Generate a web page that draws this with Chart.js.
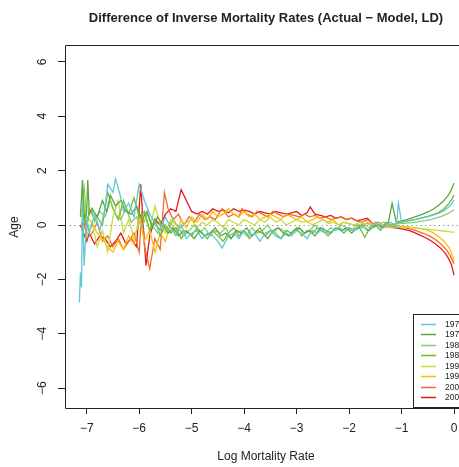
<!DOCTYPE html>
<html>
<head>
<meta charset="utf-8">
<script src="https://cdn.jsdelivr.net/npm/chart.js@4.4.0/dist/chart.umd.min.js"></script>
<style>
html,body{margin:0;padding:0;background:#fff}
canvas{display:block}
</style>
</head>
<body>
<canvas id="chart" width="459" height="467"></canvas>
<script>

const years=["1970","1975","1980","1985","1990","1995","2000","2005"];

const xTicks=[-7,-6,-5,-4,-3,-2,-1,0];
const yTicks=[-6,-4,-2,0,2,4,6];

const rate1970=[
-7.14,-7.12,-7.10,-7.08,-7.05,-7.00,-6.95,-6.85,-6.75,-6.65,
-6.60,-6.50,-6.45,-6.35,-6.30,-6.20,-6.10,-6.00,-5.90,-5.80,
-5.70,-5.60,-5.50,-5.40,-5.30,-5.20,-5.10,-5.00,-4.90,-4.80,
-4.70,-4.60,-4.50,-4.42,-4.30,-4.20,-4.10,-4.00,-3.90,-3.80,
-3.70,-3.60,-3.50,-3.40,-3.30,-3.20,-3.10,-3.00,-2.90,-2.80,
-2.70,-2.60,-2.50,-2.40,-2.30,-2.20,-2.10,-2.00,-1.90,-1.80,
-1.70,-1.60,-1.50,-1.40,-1.30,-1.20,-1.10,-1.06,-1.00,-0.90,
-0.80,-0.70,-0.60,-0.50,-0.40,-0.30,-0.20,-0.10,-0.05,0.00];
const diff1970=[
-2.85,-1.75,-2.30,0.90,-1.50,0.20,-0.30,0.40,-0.20,0.60,
1.50,1.20,1.70,1.00,0.50,0.80,0.30,1.50,0.90,0.40,
0.10,-0.20,0.30,-0.10,-0.40,0.00,-0.50,-0.30,-0.20,-0.50,
-0.30,-0.40,-0.60,-0.85,-0.40,-0.30,-0.50,-0.20,-0.40,-0.30,
-0.60,-0.30,-0.20,-0.40,-0.50,-0.30,-0.40,-0.20,-0.30,-0.50,
-0.20,-0.30,-0.10,-0.30,-0.20,-0.10,-0.20,-0.10,-0.20,0.00,
-0.10,-0.20,0.10,-0.10,0.00,0.10,-0.10,0.80,0.10,0.14,
0.18,0.22,0.26,0.31,0.36,0.43,0.52,0.66,0.76,0.92];

const rate1975=[
-7.12,-7.08,-7.05,-7.00,-6.98,-6.95,-6.90,-6.80,-6.70,-6.62,
-6.55,-6.45,-6.35,-6.25,-6.15,-6.05,-5.95,-5.85,-5.75,-5.65,
-5.55,-5.45,-5.35,-5.25,-5.15,-5.05,-4.95,-4.85,-4.75,-4.65,
-4.55,-4.45,-4.35,-4.25,-4.15,-4.05,-3.95,-3.85,-3.75,-3.65,
-3.55,-3.45,-3.35,-3.25,-3.15,-3.05,-2.95,-2.85,-2.75,-2.65,
-2.55,-2.45,-2.35,-2.25,-2.15,-2.05,-1.95,-1.85,-1.75,-1.65,
-1.55,-1.45,-1.35,-1.25,-1.18,-1.10,-1.00,-0.90,-0.80,-0.70,
-0.60,-0.50,-0.40,-0.30,-0.20,-0.10,-0.05,0.00];
const diff1975=[
0.30,1.65,0.20,0.50,1.65,0.40,0.60,0.30,0.90,0.50,
1.10,0.70,0.90,0.50,0.40,0.70,0.20,0.50,-0.10,0.30,
0.00,-0.30,-0.10,-0.40,-0.20,-0.30,-0.50,-0.20,-0.40,-0.30,
-0.10,-0.40,-0.30,-0.50,-0.20,-0.30,-0.10,-0.40,-0.20,-0.30,
-0.50,-0.20,-0.10,-0.30,-0.40,-0.20,-0.10,-0.30,-0.20,-0.40,
-0.10,-0.20,-0.30,-0.10,-0.20,-0.10,-0.30,-0.10,0.00,-0.20,
-0.10,0.00,-0.10,0.10,0.80,0.10,0.15,0.20,0.26,0.33,
0.40,0.48,0.58,0.72,0.88,1.12,1.30,1.54];

const rate1980=[
-7.10,-7.05,-7.00,-6.90,-6.85,-6.75,-6.65,-6.55,-6.45,-6.35,
-6.25,-6.15,-6.05,-5.95,-5.85,-5.75,-5.65,-5.55,-5.45,-5.35,
-5.25,-5.15,-5.05,-4.95,-4.85,-4.75,-4.65,-4.55,-4.45,-4.35,
-4.25,-4.15,-4.05,-3.95,-3.85,-3.75,-3.65,-3.55,-3.45,-3.35,
-3.25,-3.15,-3.05,-2.95,-2.85,-2.75,-2.65,-2.55,-2.45,-2.35,
-2.25,-2.15,-2.05,-1.95,-1.85,-1.75,-1.65,-1.55,-1.45,-1.35,
-1.25,-1.15,-1.05,-0.95,-0.85,-0.75,-0.65,-0.55,-0.45,-0.35,
-0.25,-0.15,-0.08,0.00];
const diff1980=[
0.80,1.40,0.20,0.60,0.10,0.50,0.30,0.90,0.40,0.20,
0.60,0.10,0.30,-0.10,0.40,0.00,-0.30,0.10,-0.20,0.20,
-0.10,-0.40,-0.20,0.00,-0.30,-0.10,-0.40,-0.20,-0.30,-0.10,
-0.50,-0.30,-0.20,-0.40,-0.10,-0.30,-0.20,0.00,-0.30,-0.10,
-0.20,-0.40,-0.20,-0.10,-0.30,-0.20,0.00,-0.20,-0.30,-0.10,
-0.20,0.00,-0.10,-0.20,0.00,-0.10,0.10,-0.10,0.00,0.10,
0.00,0.03,0.05,0.06,0.08,0.10,0.13,0.16,0.20,0.25,
0.31,0.39,0.46,0.56];

const rate1985=[
-7.10,-7.05,-7.00,-6.95,-6.85,-6.80,-6.70,-6.60,-6.50,-6.40,
-6.30,-6.20,-6.10,-6.00,-5.90,-5.80,-5.70,-5.60,-5.50,-5.40,
-5.30,-5.20,-5.10,-5.00,-4.90,-4.80,-4.70,-4.60,-4.50,-4.40,
-4.30,-4.20,-4.10,-4.00,-3.90,-3.80,-3.70,-3.60,-3.50,-3.40,
-3.30,-3.20,-3.10,-3.00,-2.90,-2.80,-2.70,-2.60,-2.50,-2.40,
-2.30,-2.20,-2.10,-2.00,-1.90,-1.80,-1.70,-1.60,-1.50,-1.40,
-1.30,-1.20,-1.10,-1.00,-0.90,-0.80,-0.70,-0.60,-0.50,-0.40,
-0.30,-0.20,-0.10,-0.05,0.00];
const diff1985=[
0.00,0.40,-0.20,0.60,0.20,0.30,0.00,1.20,0.60,0.20,
0.90,0.40,1.00,0.30,0.50,-0.20,0.20,-0.40,0.00,-0.30,
-0.10,-0.50,-0.20,-0.40,-0.10,-0.30,-0.50,-0.20,-0.40,-0.60,
-0.30,-0.10,-0.40,-0.20,-0.50,-0.30,-0.10,-0.40,-0.20,-0.30,
-0.50,-0.20,-0.30,-0.10,-0.40,-0.20,-0.30,-0.10,-0.20,-0.40,
-0.20,-0.10,-0.30,-0.10,-0.20,-0.10,-0.45,-0.10,0.00,-0.20,
0.10,0.00,0.05,0.10,0.14,0.18,0.22,0.27,0.32,0.38,
0.46,0.58,0.78,0.92,1.10];

const rate1990=[
-7.10,-7.05,-7.00,-6.90,-6.80,-6.70,-6.60,-6.50,-6.40,-6.30,
-6.20,-6.10,-6.00,-5.90,-5.80,-5.70,-5.60,-5.50,-5.40,-5.30,
-5.20,-5.10,-5.00,-4.90,-4.80,-4.70,-4.60,-4.50,-4.40,-4.30,
-4.20,-4.10,-4.00,-3.90,-3.80,-3.70,-3.60,-3.50,-3.40,-3.30,
-3.20,-3.10,-3.00,-2.90,-2.80,-2.70,-2.60,-2.50,-2.40,-2.30,
-2.20,-2.10,-2.00,-1.90,-1.80,-1.70,-1.60,-1.50,-1.40,-1.30,
-1.20,-1.10,-1.00,-0.90,-0.80,-0.70,-0.60,-0.50,-0.40,-0.30,
-0.20,-0.10,0.00];
const diff1990=[
0.30,0.80,-0.40,0.10,-0.80,-0.20,-1.00,0.30,0.90,-0.30,
0.20,-0.50,0.10,0.40,-0.20,0.70,0.00,-0.30,0.20,0.00,
-0.10,0.10,0.20,-0.10,0.10,0.00,0.20,0.10,-0.10,0.20,
0.10,0.00,0.20,0.10,0.00,0.20,0.10,0.30,0.10,0.20,
0.00,0.10,0.20,0.10,0.15,0.00,0.10,0.20,0.05,0.10,
0.00,0.10,0.05,0.00,0.10,0.00,-0.10,0.00,0.05,-0.05,
-0.10,-0.05,-0.10,-0.08,-0.10,-0.12,-0.14,-0.16,-0.18,-0.20,
-0.22,-0.24,-0.27];

const rate1995=[
-7.12,-7.05,-7.00,-6.90,-6.80,-6.70,-6.60,-6.50,-6.40,-6.30,
-6.20,-6.10,-6.00,-5.90,-5.80,-5.70,-5.60,-5.50,-5.40,-5.30,
-5.20,-5.10,-5.00,-4.90,-4.80,-4.70,-4.60,-4.50,-4.40,-4.30,
-4.20,-4.10,-4.00,-3.90,-3.80,-3.70,-3.60,-3.50,-3.40,-3.30,
-3.20,-3.10,-3.00,-2.90,-2.80,-2.70,-2.60,-2.50,-2.40,-2.30,
-2.20,-2.10,-2.00,-1.90,-1.80,-1.70,-1.60,-1.50,-1.40,-1.30,
-1.20,-1.10,-1.00,-0.90,-0.80,-0.70,-0.60,-0.50,-0.40,-0.30,
-0.20,-0.10,-0.05,0.00];
const diff1995=[
0.50,0.70,0.30,0.10,-0.30,-0.50,-0.80,-1.00,-0.60,-0.90,
-0.40,-0.70,0.30,-0.60,-0.20,-1.00,-0.30,-0.60,0.10,-0.30,
0.20,-0.10,0.30,0.10,0.40,0.20,0.50,0.30,0.40,0.60,
0.40,0.30,0.50,0.30,0.40,0.20,0.30,0.40,0.30,0.20,
0.40,0.30,0.20,0.30,0.10,0.20,0.30,0.20,0.10,0.20,
0.00,0.10,0.05,0.00,0.00,0.05,0.05,0.00,0.02,-0.02,
0.00,-0.03,-0.05,-0.07,-0.09,-0.11,-0.14,-0.20,-0.28,-0.42,
-0.58,-0.82,-1.00,-1.30];

const rate2000=[
-7.10,-7.05,-7.00,-6.90,-6.80,-6.70,-6.60,-6.50,-6.40,-6.30,
-6.20,-6.10,-6.00,-5.95,-5.90,-5.80,-5.70,-5.60,-5.52,-5.45,
-5.35,-5.25,-5.15,-5.05,-4.95,-4.85,-4.75,-4.65,-4.55,-4.42,
-4.30,-4.20,-4.10,-4.04,-3.95,-3.85,-3.75,-3.65,-3.55,-3.45,
-3.35,-3.25,-3.15,-3.05,-2.95,-2.85,-2.75,-2.65,-2.55,-2.45,
-2.35,-2.25,-2.15,-2.05,-1.95,-1.85,-1.75,-1.65,-1.55,-1.45,
-1.35,-1.25,-1.15,-1.05,-0.95,-0.85,-0.75,-0.65,-0.55,-0.45,
-0.35,-0.25,-0.15,-0.08,0.00];
const diff2000=[
-0.20,0.10,-0.50,-0.30,0.10,-0.60,-0.40,-0.80,-0.50,-0.90,
-0.60,-0.30,-1.00,0.50,-0.80,-1.60,-0.50,-0.90,1.20,0.60,
0.20,0.40,0.00,0.30,0.10,0.40,0.20,0.30,0.20,0.60,
0.30,0.40,0.30,0.60,0.40,0.30,0.50,0.40,0.30,0.50,
0.40,0.30,0.40,0.35,0.30,0.40,0.30,0.35,0.25,0.30,
0.20,0.25,0.30,0.20,0.25,0.15,0.10,0.20,0.05,0.10,
0.00,-0.03,-0.05,-0.08,-0.10,-0.14,-0.19,-0.26,-0.33,-0.42,
-0.54,-0.70,-0.90,-1.10,-1.42];

const rate2005=[
-7.12,-7.08,-7.00,-6.95,-6.85,-6.75,-6.65,-6.55,-6.45,-6.35,
-6.25,-6.15,-6.05,-5.97,-5.93,-5.87,-5.80,-5.70,-5.60,-5.50,
-5.40,-5.30,-5.20,-5.10,-5.00,-4.90,-4.80,-4.70,-4.60,-4.50,
-4.40,-4.30,-4.20,-4.10,-4.00,-3.90,-3.80,-3.70,-3.60,-3.50,
-3.40,-3.30,-3.20,-3.10,-3.00,-2.90,-2.80,-2.74,-2.65,-2.55,
-2.45,-2.35,-2.25,-2.15,-2.05,-1.95,-1.85,-1.75,-1.65,-1.55,
-1.45,-1.35,-1.25,-1.15,-1.05,-0.95,-0.85,-0.75,-0.65,-0.55,
-0.45,-0.35,-0.25,-0.15,-0.10,-0.05,0.00];
const diff2005=[
0.00,-0.20,-0.60,-0.30,-0.70,-0.40,-0.50,-0.80,-0.60,-0.30,
-0.70,-0.50,-0.80,1.50,0.20,-1.50,-0.40,0.20,0.00,0.40,
0.60,0.50,1.30,0.90,0.50,0.40,0.50,0.40,0.60,0.50,
0.55,0.45,0.60,0.50,0.55,0.50,0.40,0.50,0.45,0.40,
0.50,0.45,0.40,0.45,0.50,0.35,0.45,0.66,0.40,0.35,
0.30,0.35,0.25,0.30,0.20,0.25,0.15,0.20,0.25,0.05,
0.00,-0.05,-0.08,-0.10,-0.12,-0.16,-0.21,-0.28,-0.37,-0.46,
-0.57,-0.70,-0.86,-1.08,-1.25,-1.45,-1.84];

const rates=[rate1970,rate1975,rate1980,rate1985,rate1990,rate1995,rate2000,rate2005];
const diffs=[diff1970,diff1975,diff1980,diff1985,diff1990,diff1995,diff2000,diff2005];

const colors=["#62c6d6","#5aa83a","#8ccc6c","#6cbe2c","#c8dc3c","#f8c000","#f26a2e","#e3181c"];

const FONT="'Liberation Sans', Arial, Helvetica, sans-serif";
const INK="#222";

function minusLabel(v){
return v<0 ? "\u2212"+Math.abs(v) : String(v);
}

const frame={

id:"frame",

afterDatasetsDraw(chart){

const {ctx,chartArea:a,scales:{y}}=chart;
const y0=Math.round(y.getPixelForValue(0))+.5;

ctx.save();
ctx.strokeStyle="#9a9a9a";
ctx.lineWidth=1;
ctx.setLineDash([1.5,3]);
ctx.beginPath();
ctx.moveTo(a.left,y0);
ctx.lineTo(a.right,y0);
ctx.stroke();
ctx.restore();

},

afterDraw(chart){

const {ctx,chartArea:a,scales:{y}}=chart;

ctx.save();

ctx.strokeStyle=INK;
ctx.lineWidth=1;
ctx.beginPath();
ctx.moveTo(a.right+20,a.top+.5);
ctx.lineTo(a.left+.5,a.top+.5);
ctx.lineTo(a.left+.5,a.bottom+.5);
ctx.lineTo(a.right+20,a.bottom+.5);
ctx.stroke();

ctx.fillStyle=INK;
ctx.font="12px "+FONT;
ctx.textAlign="center";
ctx.textBaseline="middle";

yTicks.forEach(v=>{
ctx.save();
ctx.translate(43,y.getPixelForValue(v));
ctx.rotate(-Math.PI/2);
ctx.fillText(minusLabel(v),0,0);
ctx.restore();
});

ctx.fillText("Log Mortality Rate",266,457);

ctx.save();
ctx.translate(15,227);
ctx.rotate(-Math.PI/2);
ctx.fillText("Age",0,0);
ctx.restore();

ctx.font="bold 13px "+FONT;
ctx.fillText("Difference of Inverse Mortality Rates (Actual \u2212 Model, LD)",266,18);

// legend box, cut by the right edge like the original
ctx.fillStyle="#fff";
ctx.fillRect(413.5,314.5,80,93);
ctx.strokeRect(413.5,314.5,80,93);

ctx.font="8.5px "+FONT;
ctx.textAlign="left";

chart.data.datasets.forEach((ds,i)=>{
const ly=Math.round(324+i*10.45)+.5;
ctx.strokeStyle=ds.borderColor;
ctx.lineWidth=1.5;
ctx.beginPath();
ctx.moveTo(421,ly);
ctx.lineTo(436,ly);
ctx.stroke();
ctx.fillStyle=INK;
ctx.fillText(ds.label,445,ly);
});

ctx.restore();

}

};

const datasets=years.map((yr,i)=>({

label:yr,

data:rates[i].map((x,j)=>({x,y:diffs[i][j]})),

borderColor:colors[i],

borderWidth:1.3,

showLine:true,

pointRadius:0,

tension:0,

fill:false

}));

new Chart(document.getElementById("chart"),{

type:"scatter",

data:{datasets},

options:{

responsive:false,

animation:false,

devicePixelRatio:1,

layout:{padding:{top:45,left:0,right:0,bottom:0}},

plugins:{
legend:{display:false},
tooltip:{enabled:false},
title:{display:false}
},

scales:{

x:{
type:"linear",
min:-7.414,
max:0.095,
afterBuildTicks(scale){
scale.ticks=xTicks.map(v=>({value:v}));
},
afterFit(scale){
scale.height=59;
scale.paddingLeft=0;
scale.paddingRight=0;
},
border:{display:false},
grid:{
display:true,
drawOnChartArea:false,
drawTicks:true,
tickLength:6,
color:INK
},
ticks:{
padding:7,
color:INK,
font:{size:12,family:FONT},
maxRotation:0,
callback:v=>minusLabel(v)
}
},

y:{
type:"linear",
min:-6.73,
max:6.62,
afterBuildTicks(scale){
scale.ticks=yTicks.map(v=>({value:v}));
},
afterFit(scale){
scale.width=65;
scale.paddingTop=0;
scale.paddingBottom=0;
},
border:{display:false},
grid:{
display:true,
drawOnChartArea:false,
drawTicks:true,
tickLength:7,
color:INK
},
ticks:{
color:"rgba(0,0,0,0)",
font:{size:12,family:FONT}
}
}

}

},

plugins:[frame]

});

</script>
</body>
</html>
